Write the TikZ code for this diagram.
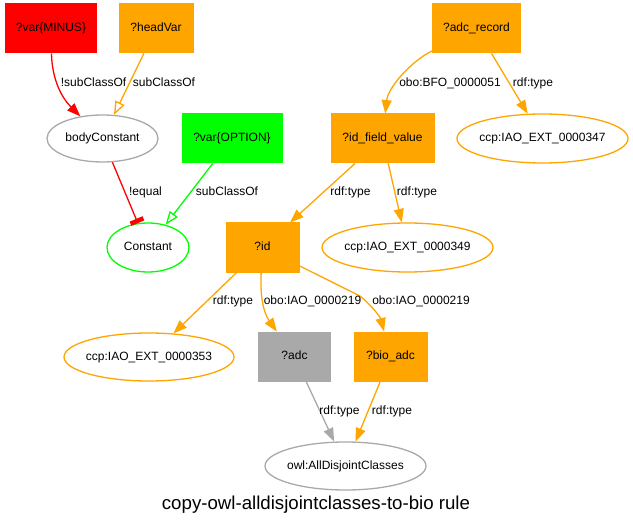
\documentclass[tikz,border=0pt]{standalone}
\usepackage{fontspec}
\setmainfont{Liberation Sans}
\usetikzlibrary{shapes.geometric,arrows.meta}
\definecolor{gvorange}{HTML}{FFA500}
\definecolor{gvgreen}{HTML}{00FF00}
\definecolor{gvred}{HTML}{FF0000}
\definecolor{gvgray}{HTML}{A9A9A9}
\begin{document}
\begin{tikzpicture}[x=1bp,y=-1bp,
  every node/.style={font=\fontsize{12bp}{14bp}\selectfont, inner sep=0pt, text height=8.8bp, text depth=2.6bp},
  box/.style={draw=#1, fill=#1, rectangle, minimum height=49bp, line width=1bp},
  ell/.style={draw=#1, ellipse, minimum height=48bp, line width=1.3bp},
  lbl/.style={},
  arr/.style={draw=#1, line width=1.3bp, -{Triangle[length=13.5bp,width=10bp]}},
  oarr/.style={draw=#1, line width=1.3bp, -{Triangle[open,length=13.5bp,width=10bp]}},
  tarr/.style={draw=#1, line width=1.3bp, -{Rectangle[length=4.5bp,width=14bp]}},
]
\useasboundingbox[fill=white] (0,0) rectangle (633,528);

% nodes
\node[box=gvred, minimum width=91bp] (minus) at (51,28.5) {?var\{MINUS\}};
\node[box=gvorange, minimum width=74bp] (headvar) at (156,28.5) {?headVar};
\node[box=gvorange, minimum width=88bp] (adcr) at (476.5,28.5) {?adc\_record};
\node[ell=gvgray, minimum width=111bp, minimum height=47bp] (bodyc) at (102.5,138.5) {\makebox[0pt]{bodyConstant}};
\node[box=gvgreen, minimum width=100bp] (option) at (232,138.5) {?var\{OPTION\}};
\node[box=gvorange, minimum width=103bp] (idf) at (382.5,138.5) {?id\_field\_value};
\node[ell=gvorange, minimum width=171bp, minimum height=49bp] (c347) at (542.5,138.5) {\makebox[0pt]{ccp:IAO\_EXT\_0000347}};
\node[ell=gvgreen, minimum width=82bp, minimum height=49bp] (const) at (148,247.5) {\makebox[0pt]{Constant}};
\node[box=gvorange, minimum width=73bp] (id) at (262.5,247.5) {?id};
\node[ell=gvorange, minimum width=171bp, minimum height=49bp] (c349) at (407.5,247.5) {\makebox[0pt]{ccp:IAO\_EXT\_0000349}};
\node[ell=gvorange, minimum width=170bp] (c353) at (149,357) {\makebox[0pt]{ccp:IAO\_EXT\_0000353}};
\node[box=gvgray, minimum width=72bp] (adc) at (294.5,356.5) {?adc};
\node[box=gvorange, minimum width=73bp] (bio) at (390.5,356.5) {?bio\_adc};
\node[ell=gvgray, minimum width=161bp] (owl) at (345.5,466) {\makebox[0pt]{owl:AllDisjointClasses}};
\node[font=\fontsize{18.67bp}{22bp}\selectfont, text height=13.5bp, text depth=4bp] (title) at (316,505) {copy-owl-alldisjointclasses-to-bio rule};

% edges
\draw[arr=gvred] (minus) .. controls (52,80) and (62,98) .. (bodyc);
\draw[oarr=gvorange] (headvar) -- (bodyc);
\draw[tarr=gvred] (bodyc) -- (const);
\draw[oarr=gvgreen] (option) -- (const);
\draw[arr=gvorange] (adcr) .. controls (410,62) and (388,88) .. (idf);
\draw[arr=gvorange] (adcr) -- (c347);
\draw[arr=gvorange] (idf) -- (id);
\draw[arr=gvorange] (idf) -- (c349);
\draw[arr=gvorange] (id) -- (c353);
\draw[arr=gvorange] (id) .. controls (260,295) and (263,312) .. (adc);
\draw[arr=gvorange] (id) -- (360,296) .. controls (368,302) and (380,316) .. (bio);
\draw[arr=gvgray] (adc) -- (owl);
\draw[arr=gvorange] (bio) -- (owl);

% labels
\node[lbl] (l1) at (93.5,83) {!subClassOf};
\node[lbl] (l2) at (164,83) {subClassOf};
\node[lbl] (l3) at (145.5,192) {!equal};
\node[lbl] (l4) at (227,192) {subClassOf};
\node[lbl] (l5) at (450,83) {obo:BFO\_0000051};
\node[lbl] (l6) at (533,83) {rdf:type};
\node[lbl] (l7) at (350.5,192) {rdf:type};
\node[lbl] (l8) at (417,192) {rdf:type};
\node[lbl] (l9) at (233,301) {rdf:type};
\node[lbl] (l10) at (312.5,301) {obo:IAO\_0000219};
\node[lbl] (l11) at (421,301) {obo:IAO\_0000219};
\node[lbl] (l12) at (339.5,411) {rdf:type};
\node[lbl] (l13) at (392,411) {rdf:type};
\end{tikzpicture}
\end{document}
